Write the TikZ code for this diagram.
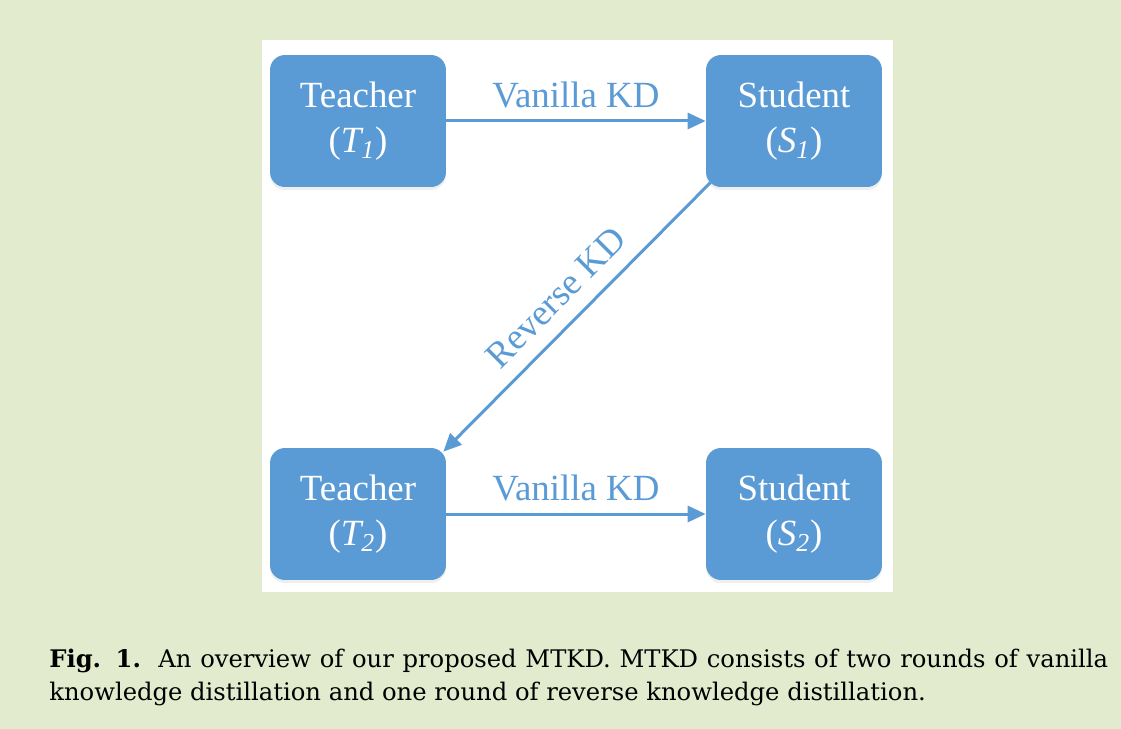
\documentclass[tikz,border=0pt]{standalone}
\usepackage{fontspec}
\setmainfont{Liberation Serif}
\newfontfamily\capfont{DejaVu Serif}
\usetikzlibrary{arrows.meta, positioning, calc, shadows}
\definecolor{kdblue}{RGB}{91,155,213}
\definecolor{pagegreen}{RGB}{226,235,206}

\begin{document}
\begin{tikzpicture}[x=0.02cm, y=-0.02cm,
    model/.style={rectangle, rounded corners=0.3cm, fill=kdblue, text=white,
        minimum width=3.52cm, minimum height=2.64cm, align=center,
        font=\fontsize{21}{26}\selectfont,
        drop shadow={shadow xshift=0pt, shadow yshift=-0.06cm, opacity=0.12}},
    kdarrow/.style={draw=kdblue, line width=0.06cm,
        -{Triangle[length=0.36cm, width=0.32cm]}},
    kdlabel/.style={text=kdblue, font=\fontsize{21}{25}\selectfont}]
    % Background and panel
    \fill[pagegreen] (0,0) rectangle (1121,729);
    \fill[white] (262,40) rectangle (893,592);
    \useasboundingbox (0,0) rectangle (1121,729);

    % Teachers and students
    \node[model] (T1) at (358,121) {Teacher\\(\textit{T\textsubscript{1}})};
    \node[model] (S1) at (794,121) {Student\\(\textit{S\textsubscript{1}})};
    \node[model] (T2) at (358,514) {Teacher\\(\textit{T\textsubscript{2}})};
    \node[model] (S2) at (794,514) {Student\\(\textit{S\textsubscript{2}})};

    % Distillation rounds
    \draw[kdarrow] (T1) -- node[kdlabel, above, yshift=3pt] (vkd1) {Vanilla KD} (S1);
    \coordinate (rstart) at ($(S1.south west)+(5,-5)$);
    \draw[kdarrow] (rstart) -- ($(T2.north east)+(-3,4)$);
    \node[kdlabel, rotate=45] (rkd) at ($(S1.south west)!0.5!(T2.north east)+(-20,-20)$) {Reverse KD};
    \draw[kdarrow] (T2) -- node[kdlabel, above, yshift=3pt] (vkd2) {Vanilla KD} (S2);

    % Caption
    \node[anchor=base west, inner sep=0pt, font=\capfont\fontsize{13.8}{17}\selectfont] (cap1) at (49,667)
        {\makebox[21.18cm][s]{\textbf{Fig. 1.}\ \ An overview of our proposed MTKD. MTKD consists of two rounds of vanilla}};
    \node[anchor=base west, inner sep=0pt, font=\capfont\fontsize{13.8}{17}\selectfont] (cap2) at (49,700)
        {knowledge distillation and one round of reverse knowledge distillation.};
\end{tikzpicture}
\end{document}
